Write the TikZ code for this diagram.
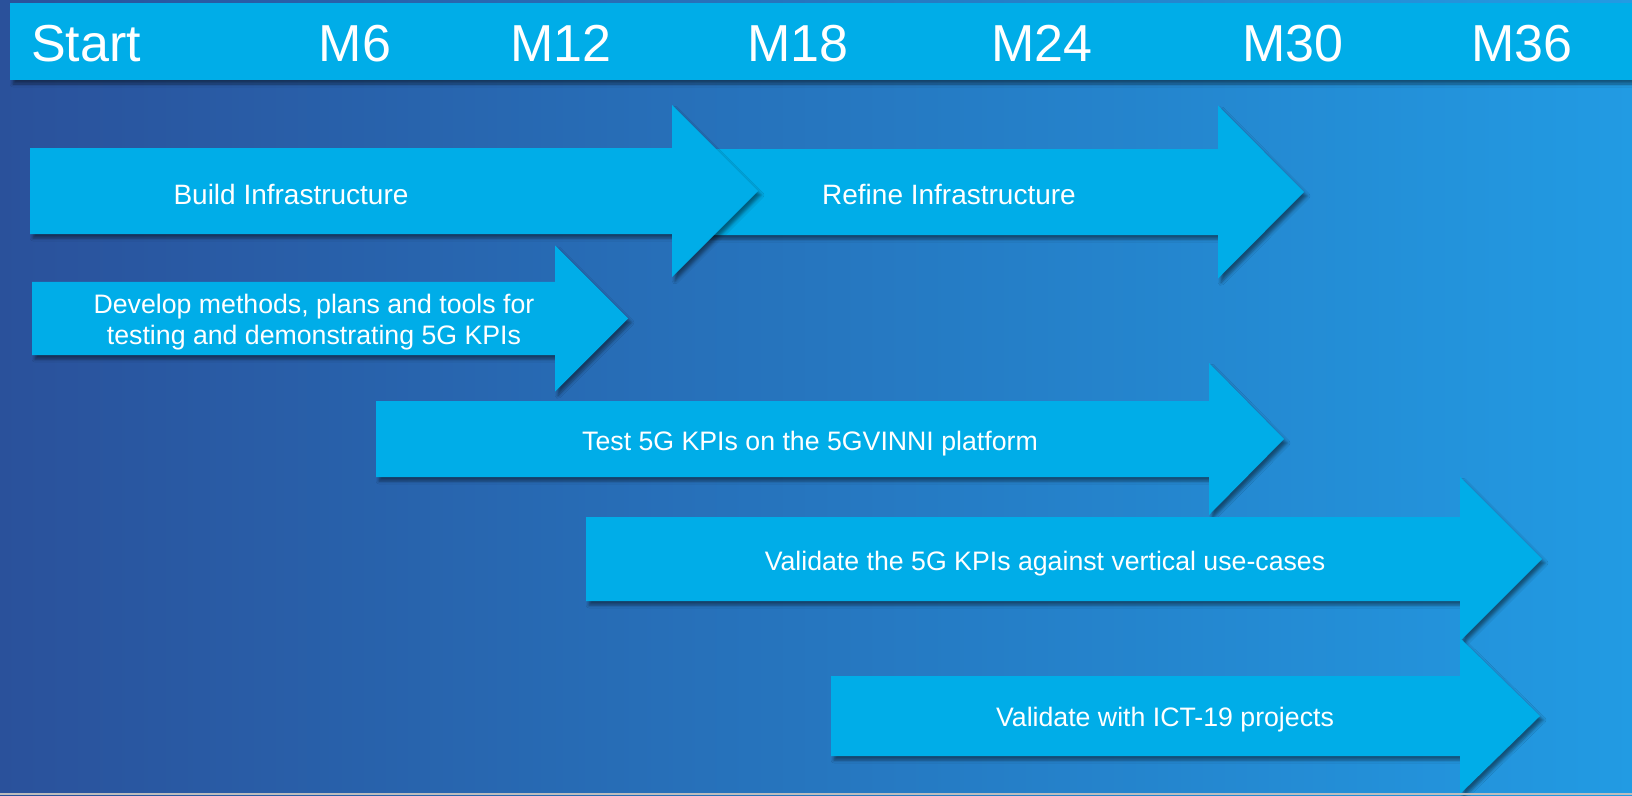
\documentclass[tikz,border=0pt]{standalone}
\usepackage{fontspec}
\setmainfont{Liberation Sans}
\usetikzlibrary{shadows.blur}
\definecolor{bgL}{HTML}{2A519B}
\definecolor{bgR}{HTML}{229BE3}
\definecolor{barC}{HTML}{00ADE8}
\definecolor{stripC}{HTML}{BDBDBD}
\tikzset{
  phase/.style={fill=barC, blur shadow={shadow xshift=3pt, shadow yshift=-4pt,
      shadow blur radius=3pt, shadow opacity=45}},
  month/.style={text=white, inner sep=0pt, anchor=base,
      font=\fontsize{52}{60}\selectfont},
  tasklbl/.style={text=white, inner sep=0pt, anchor=base,
      font=\fontsize{26.7}{31}\selectfont},
  tasklblbig/.style={tasklbl, font=\fontsize{28}{32}\selectfont},
}
% block arrow: shaft start, head back, tip, centre line, shaft half height, head half height
\newcommand\phasearrow[6]{%
  \path[phase] (#1,{#4-#5}) -- (#2,{#4-#5}) -- (#2,{#4-#6}) -- (#3,#4)
    -- (#2,{#4+#6}) -- (#2,{#4+#5}) -- (#1,{#4+#5}) -- cycle;}
\begin{document}
\begin{tikzpicture}[x=1pt, y=-1pt]
\useasboundingbox (0,0) rectangle (1632,795);
\clip (0,0) rectangle (1632,795);
% background
\shade[left color=bgL, right color=bgR] (0,0) rectangle (1632,795);

% timeline header
\path[phase] (10,3) rectangle (1640,80);
\node[month, anchor=base west] (mStart) at (31,61.5) {Start};
\node[month] (m6)  at (355,61.5) {M6};
\node[month] (m12) at (561,61.5) {M12};
\node[month] (m18) at (798,61.5) {M18};
\node[month] (m24) at (1042,61.5) {M24};
\node[month] (m30) at (1293,61.5) {M30};
\node[month] (m36) at (1522,61.5) {M36};

% work phases
\phasearrow{690}{1218}{1304}{192}{43}{86.5}
\phasearrow{30}{672}{758}{191}{43}{86}
\phasearrow{32}{555}{628}{318.5}{36.7}{73}
\phasearrow{376}{1209}{1284}{439}{38}{76}
\phasearrow{586}{1460}{1542}{559}{42}{82}
\phasearrow{831}{1460}{1540}{716}{40}{78}

\node[tasklblbig] (build)  at (291,204) {Build Infrastructure};
\node[tasklblbig] (refine) at (949,204) {Refine Infrastructure};
\node[tasklbl] (dev1) at (314,313) {Develop methods, plans and tools for};
\node[tasklbl] (dev2) at (314,344.5) {testing and demonstrating 5G KPIs};
\node[tasklbl] (test) at (810,450) {Test 5G KPIs on the 5GVINNI platform};
\node[tasklbl] (valid) at (1045,570) {Validate the 5G KPIs against vertical use-cases};
\node[tasklbl] (ict) at (1165,726.5) {Validate with ICT-19 projects};

% bottom edge
\fill[stripC] (0,793) rectangle (1632,795);
\end{tikzpicture}
\end{document}
